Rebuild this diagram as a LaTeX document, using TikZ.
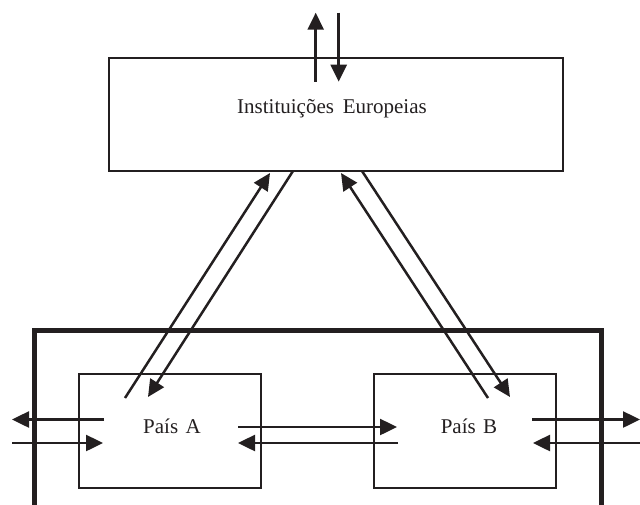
\documentclass[tikz,border=0pt]{standalone}
\usepackage{fontspec}
\setmainfont{Liberation Serif}
\usetikzlibrary{arrows.meta}
\definecolor{ink}{RGB}{35,31,32}
\begin{document}
\begin{tikzpicture}[x=1pt,y=-1pt,
  thinbox/.style={draw=ink,line width=2.5pt,rectangle,inner sep=0pt},
  outerbox/.style={draw=ink,line width=5pt},
  flow/.style={draw=ink,line width=2.5pt,-{Triangle[length=17pt,width=16pt]}},
  lbl/.style={text=ink,inner sep=0pt,font=\fontsize{21}{25}\selectfont}
]
\useasboundingbox (0,0) rectangle (640,504);
% boxes
\node[thinbox,minimum width=454pt,minimum height=113pt] (ie) at (336,114.5) {};
\node[lbl] (ietext) at (332,109) {Instituições\hspace{0.42em}Europeias};
\node[thinbox,minimum width=182pt,minimum height=114pt] (A) at (170,431) {};
\node[lbl] (Atext) at (172,426) {País\hspace{0.35em}A};
\node[thinbox,minimum width=182pt,minimum height=114pt] (B) at (465,431) {};
\node[lbl] (Btext) at (469,426) {País\hspace{0.35em}B};
% outer frame (open at bottom)
\coordinate (o1) at (34,512);
\coordinate (o2) at (34,330);
\coordinate (o3) at (601,330);
\coordinate (o4) at (601,512);
\draw[outerbox] (o1) -- (o2) -- (o3) -- (o4);
% top arrows
\coordinate (tu1) at (315.7,81.7);
\coordinate (tu2) at (315.7,12.7);
\coordinate (td1) at (338.7,12.7);
\coordinate (td2) at (338.7,81.7);
\draw[flow] (tu1) -- (tu2);
\draw[flow] (td1) -- (td2);
% diagonals A
\coordinate (au1) at (125,398);
\coordinate (au2) at (270,173);
\coordinate (ad1) at (293,171);
\coordinate (ad2) at (148,397);
\draw[flow] (au1) -- (au2);
\draw[flow] (ad1) -- (ad2);
% diagonals B
\coordinate (bu1) at (488,398);
\coordinate (bu2) at (341,173);
\coordinate (bd1) at (362,171);
\coordinate (bd2) at (510,397);
\draw[flow] (bu1) -- (bu2);
\draw[flow] (bd1) -- (bd2);
% left side of A
\coordinate (la1) at (104,419.5);
\coordinate (la2) at (12,419.5);
\coordinate (lb1) at (12,443);
\coordinate (lb2) at (103,443);
\draw[flow] (la1) -- (la2);
\draw[flow] (lb1) -- (lb2);
% between A and B
\coordinate (ab1) at (238,427);
\coordinate (ab2) at (397,427);
\coordinate (ba1) at (398,443);
\coordinate (ba2) at (238,443);
\draw[flow] (ab1) -- (ab2);
\draw[flow] (ba1) -- (ba2);
% right side of B
\coordinate (ra1) at (532,419.5);
\coordinate (ra2) at (640,419.5);
\coordinate (rb1) at (640,443);
\coordinate (rb2) at (533,443);
\draw[flow] (ra1) -- (ra2);
\draw[flow] (rb1) -- (rb2);
\end{tikzpicture}
\end{document}
